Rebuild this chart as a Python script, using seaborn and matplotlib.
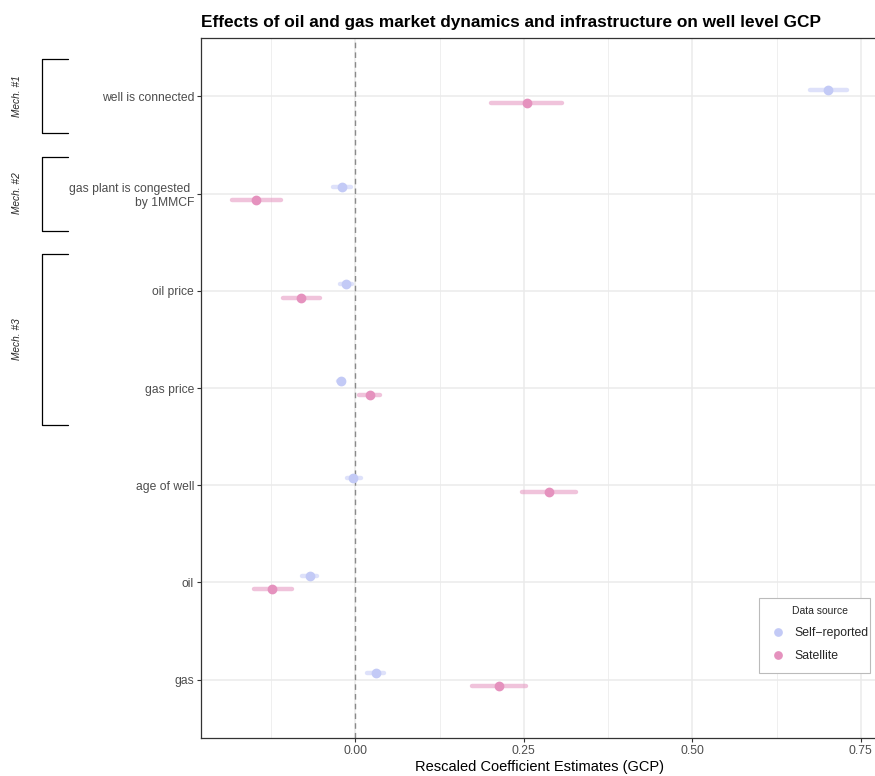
import numpy as np
import pandas as pd
import matplotlib
matplotlib.use("Agg")
import matplotlib.pyplot as plt
import matplotlib.transforms as mtransforms
from matplotlib.patches import Rectangle
from matplotlib.ticker import MultipleLocator
import seaborn as sns

terms = ["well is connected", "gas plant is congested \nby 1MMCF", "oil price",
         "gas price", "age of well", "oil", "gas"]
sources = ["Self\u2212reported", "Satellite"]

# estimate, lower, upper for each term
self_est = [0.701, -0.020, -0.014, -0.022, -0.003, -0.068, 0.030]
self_lo = [0.674, -0.033, -0.023, -0.025, -0.013, -0.079, 0.018]
self_hi = [0.729, -0.007, -0.005, -0.019, 0.008, -0.057, 0.043]

sat_est = [0.254, -0.147, -0.080, 0.021, 0.288, -0.123, 0.213]
sat_lo = [0.202, -0.183, -0.107, 0.006, 0.248, -0.151, 0.173]
sat_hi = [0.307, -0.110, -0.052, 0.036, 0.327, -0.094, 0.253]

mechs = ["Mech. #1", "Mech. #2", "Mech. #3"]
mech_first = [0, 1, 2]
mech_last = [0, 1, 3]

colors = {"Self\u2212reported": "#C3CAF6", "Satellite": "#E592BE"}

# long table: three rows per group (lo, est, hi) -> median = est, full range = CI
rows = []
for src, est, lo, hi in [(sources[0], self_est, self_lo, self_hi),
                         (sources[1], sat_est, sat_lo, sat_hi)]:
    for t, e, l, h in zip(terms, est, lo, hi):
        for v in (l, e, h):
            rows.append({"term": t, "source": src, "value": v})
df = pd.DataFrame(rows)

sns.set_style("white")
plt.rcParams["font.family"] = ["Liberation Sans", "DejaVu Sans"]

fig = plt.figure(figsize=(8.75, 7.76), dpi=100)
ax = fig.add_axes([201 / 875, 38 / 776, 677 / 875, 700 / 776])

ax.axvline(0, color="#8a8a8a", lw=1.0, ls=(0, (4, 3)), zorder=1)

sns.pointplot(data=df, x="value", y="term", hue="source", order=terms,
              hue_order=sources, palette=colors, estimator="median",
              errorbar=("pi", 100), dodge=0.14, linestyle="none", marker="o",
              markersize=5, err_kws={"linewidth": 3.2, "alpha": 0.55},
              ax=ax, zorder=3)

ax.set_xlim(-0.229, -0.229 + 677 / 674)
ax.set_ylim(6.6, -0.6)
ax.xaxis.set_major_locator(MultipleLocator(0.25))
ax.xaxis.set_minor_locator(MultipleLocator(0.125))
ax.set_xticks([0, 0.25, 0.5, 0.75])
ax.set_xticklabels(["0.00", "0.25", "0.50", "0.75"])
ax.grid(True, which="major", color="#EBEBEB", lw=1.1, zorder=0)
ax.grid(True, which="minor", axis="x", color="#EFEFEF", lw=0.7, zorder=0)
ax.set_axisbelow(True)

ax.tick_params(axis="both", which="major", length=3, width=0.8, color="#333333",
               labelcolor="#4D4D4D", labelsize=8.7, pad=2, bottom=True, left=True)
ax.tick_params(axis="x", which="minor", length=0)
for s in ax.spines.values():
    s.set_color("#333333")
    s.set_linewidth(0.9)

ax.set_xlabel("Rescaled Coefficient Estimates (GCP)", fontsize=10.5, color="black", labelpad=2)
ax.set_ylabel("")
ax.set_title("Effects of oil and gas market dynamics and infrastructure on well level GCP",
             loc="left", fontsize=12.4, fontweight="bold", color="black", pad=8)

# mechanism brackets in the left margin
tr = mtransforms.blended_transform_factory(fig.transFigure, ax.transData)
x0, x1 = 42 / 875, 68 / 875
for name, a, b in zip(mechs, mech_first, mech_last):
    top, bot = a - 0.38, b + 0.38
    ax.plot([x1, x0, x0, x1], [top, top, bot, bot], color="black", lw=0.9,
            transform=tr, clip_on=False)
    ax.text(17 / 875, (top + bot) / 2, name, transform=tr, rotation=90,
            ha="center", va="center", fontsize=7.3, style="italic")

# legend box drawn separately, entries placed inside
ax.add_patch(Rectangle((759 / 875, 1 - 673 / 776), 111 / 875, 75 / 776,
                       transform=fig.transFigure, facecolor="white",
                       edgecolor="#BBBBBB", lw=0.8, zorder=4.5, clip_on=False))
handles, labels = ax.get_legend_handles_labels()
leg = ax.legend(handles, labels, title="Data source", loc="upper left",
                bbox_to_anchor=(772 / 875, 1 - 606 / 776), bbox_transform=fig.transFigure,
                fontsize=8.8, title_fontsize=7.5, frameon=False, borderpad=0,
                borderaxespad=0, labelspacing=0.9, handletextpad=0.85,
                handlelength=1.0, markerscale=0.85)
leg.set_zorder(6)

fig.savefig("out.png", dpi=100)
